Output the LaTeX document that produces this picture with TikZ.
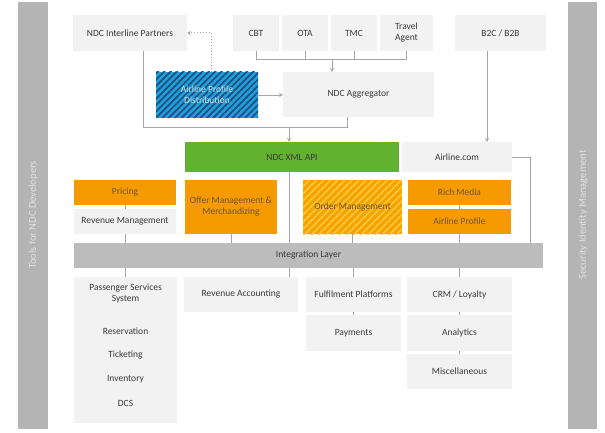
\documentclass[tikz,border=0pt]{standalone}
\usepackage{fontspec}
\setmainfont{Carlito}
\usetikzlibrary{arrows.meta,patterns.meta,calc}
\definecolor{lbox}{HTML}{F2F2F2}
\definecolor{sbar}{HTML}{B4B4B4}
\definecolor{intg}{HTML}{BCBCBC}
\definecolor{grn}{HTML}{62B22F}
\definecolor{org}{HTML}{F59A00}
\definecolor{orgtxt}{HTML}{6E5634}
\definecolor{ordbase}{HTML}{F5A300}
\definecolor{ordline}{HTML}{FFC838}
\definecolor{bluebase}{HTML}{1FA0DC}
\definecolor{blueline}{HTML}{1F4E79}
\definecolor{bluetxt}{HTML}{C6E3F5}
\definecolor{conn}{HTML}{A6A6A6}
\definecolor{txt}{HTML}{3A3A3A}
\newcommand\bx[7]{%
 \pgfmathsetmacro\bw{#4-#2}\pgfmathsetmacro\bh{#5-#3}%
 \pgfmathsetmacro\cxx{(#2+#4)/2}\pgfmathsetmacro\cyy{(#3+#5)/2}%
 \node[#6, minimum width=\bw pt, minimum height=\bh pt] (#1) at (\cxx,\cyy) {#7};}
\tikzset{
 base/.style={inner sep=0pt, outer sep=0pt, align=center, font=\fontsize{9.5}{11}\selectfont, text=txt},
 gbox/.style={base, fill=lbox},
 obox/.style={base, fill=org, text=orgtxt},
 grbox/.style={base, fill=grn, text=txt},
 ibox/.style={base, fill=intg, text=txt},
 sidebar/.style={base, fill=sbar},
 sidetxt/.style={inner sep=0pt, rotate=90, text=white!88!black, font=\fontsize{10.5}{12}\selectfont},
 hblue/.style={base, fill=bluebase, text=bluetxt,
   postaction={pattern={Lines[angle=45,distance=4.5pt,line width=1.7pt]}, pattern color=blueline}},
 horder/.style={base, fill=ordbase, text=orgtxt,
   postaction={pattern={Lines[angle=45,distance=5pt,line width=1.6pt]}, pattern color=ordline}},
 ln/.style={draw=conn, line width=0.9pt},
 arr/.style={ln, -{Stealth[length=4pt,width=4pt]}},
 ptxt/.style={inner sep=0pt, align=center, font=\fontsize{9.5}{11}\selectfont, text=txt}
}
\begin{document}
\begin{tikzpicture}[x=1pt,y=-1pt]
\useasboundingbox[fill=white] (0,0) rectangle (605,433);
% side bars
\bx{lbar}{18}{2}{48}{429}{sidebar}{}
\bx{rbar}{568}{2}{597}{429}{sidebar}{}
\node[sidetxt] (ltxt) at (33,215) {Tools for NDC Developers};
\node[sidetxt] (rtxt) at (583,215) {Security Identity Management};
% top row
\bx{ndcip}{73}{15}{187}{51}{gbox}{NDC Interline Partners}
\bx{cbt}{233}{15}{279}{51}{gbox}{CBT}
\bx{ota}{282}{15}{328}{51}{gbox}{OTA}
\bx{tmc}{331}{15}{377}{51}{gbox}{TMC}
\bx{ta}{380}{15}{433}{51}{gbox}{Travel\\Agent}
\bx{b2c}{455}{15}{546}{51}{gbox}{B2C / B2B}
\bx{agg}{283}{72}{434}{117}{gbox}{NDC Aggregator}
\bx{apd}{156}{72}{258}{118}{hblue}{Airline Profile\\Distribution}
\bx{xml}{185}{142}{399}{172}{grbox}{NDC XML API}
\bx{alc}{402}{142}{512}{172}{gbox}{Airline.com}
\bx{pricing}{74}{180}{176}{205}{obox}{Pricing}
\bx{revm}{74}{209}{176}{234}{gbox}{Revenue Management}
\bx{offer}{185}{180}{277}{234}{obox}{Offer Management \&\\Merchandizing}
\bx{order}{303}{180}{402}{234}{horder}{Order Management}
\bx{rich}{408}{180}{511}{205}{obox}{Rich Media}
\bx{ap}{408}{209}{511}{234}{obox}{Airline Profile}
\bx{integ}{74}{243}{543}{268}{ibox}{Integration Layer}
\bx{pss}{74}{277}{177}{423}{gbox}{}
\bx{reva}{184}{277}{298}{312}{gbox}{Revenue Accounting}
\bx{fulf}{306}{277}{401}{312}{gbox}{Fulfilment Platforms}
\bx{pay}{306}{315}{401}{351}{gbox}{Payments}
\bx{crm}{407}{277}{512}{312}{gbox}{CRM / Loyalty}
\bx{anl}{407}{315}{512}{351}{gbox}{Analytics}
\bx{misc}{407}{354}{512}{389}{gbox}{Miscellaneous}
\node[ptxt] (psst) at (125.5,293) {Passenger Services\\System};
\node[ptxt] (res) at (125.5,331) {Reservation};
\node[ptxt] (tick) at (125.5,355) {Ticketing};
\node[ptxt] (inv) at (125.5,379) {Inventory};
\node[ptxt] (dcs) at (125.5,403) {DCS};
% connectors
\coordinate (j) at (332,59);
\coordinate (k) at (289,127);
\coordinate (r) at (530,157);
\draw[ln] (cbt.south) -- (cbt.south|-j) -- (ta.south|-j) -- (ta.south);
\draw[ln] (ota.south) -- (ota.south|-j);
\draw[ln] (tmc.south) -- (tmc.south|-j);
\draw[arr] (j) -- (j|-agg.north);
\draw[arr] (apd.east) -- (agg.west|-apd.east);
\draw[arr, dotted, line width=1pt] ([xshift=4pt]apd.north) |- (ndcip.east);
\draw[ln] ([xshift=13pt]ndcip.south) |- (k);
\draw[ln] ([xshift=-11pt]agg.south) |- (k);
\draw[arr] (k) -- (k|-xml.north);
\draw[arr] ([xshift=-13.5pt]b2c.south) -- ([xshift=-13.5pt]b2c.south|-alc.north);
\draw[ln] (alc.east) -- (r) -- (r|-integ.north);
\draw[ln] (pricing.south) -- (revm.north);
\draw[ln] (revm.south) -- (revm.south|-integ.north);
\draw[ln] (offer.south) -- (offer.south|-integ.north);
\draw[ln] (k|-xml.south) -- (k|-integ.north);
\draw[ln] (order.south) -- (order.south|-integ.north);
\draw[ln] (rich.south) -- (ap.north);
\draw[ln] (ap.south) -- (ap.south|-integ.north);
\draw[ln] (integ.south-|pss.north) -- (pss.north);
\draw[ln] (k|-integ.south) -- (k|-reva.north);
\draw[ln] (integ.south-|fulf.north) -- (fulf.north);
\draw[ln] (integ.south-|crm.north) -- (crm.north);
\draw[ln] (fulf.south) -- (pay.north);
\draw[ln] (crm.south) -- (anl.north);
\draw[ln] (anl.south) -- (misc.north);
\end{tikzpicture}
\end{document}
